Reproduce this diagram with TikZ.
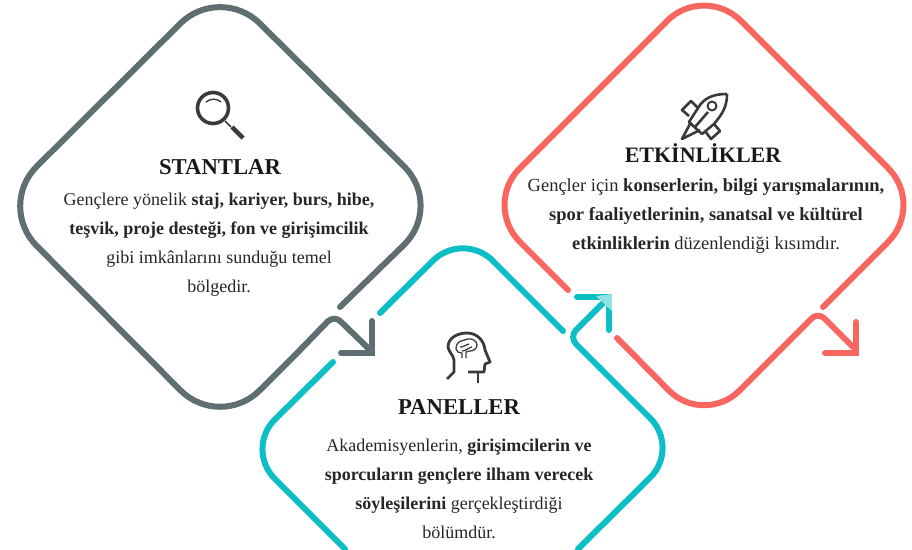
\documentclass[tikz,border=0pt]{standalone}
\usepackage{fontspec}
\setmainfont{Liberation Serif}
\definecolor{stantgray}{HTML}{5F6E71}
\definecolor{paneteal}{HTML}{0CBFC7}
\definecolor{etkired}{HTML}{F9655F}
\definecolor{icondark}{HTML}{3A3A3C}
\tikzset{
    side/.style={line width=6pt, line cap=round, line join=round},
    head/.style={line width=6pt, line cap=round, line join=miter},
    title/.style={font=\fontsize{22.7}{24}\selectfont\bfseries, text=black!90},
    body/.style={font=\fontsize{18}{29}\selectfont, align=center, text=black!85},
    icon/.style={draw=icondark, line width=2.6pt, line join=round},
}

\begin{document}
\begin{tikzpicture}[x=1pt, y=-1pt]
    \useasboundingbox (0,0) rectangle (912,549);

    % Gray diamond
    \draw[side, stantgray, rounded corners=56pt] (340,307) -- (444,206) -- (220,-16) -- (-3,206) -- (220,430) -- (300,350);
    \draw[side, stantgray, rounded corners=9pt] (300,350) -- (334,315) -- (369,349);
    \draw[head, stantgray] (372,321) -- (372,353) -- (341,353);

    % Teal diamond
    \draw[side, paneteal, rounded corners=42pt] (380,313) -- (463,231) -- (563,331);
    \draw[side, paneteal, rounded corners=42pt] (333,362) -- (245,449) -- (345,549);
    \draw[side, paneteal, rounded corners=42pt] (578,549) -- (680,448) -- (600,368);
    \draw[side, paneteal, rounded corners=10pt] (600,368) -- (569,337) -- (606,300);
    \draw[head, paneteal] (577,297) -- (609,297) -- (609,330);
    \fill[paneteal!45] (596,296) -- (612,294) -- (612,311) -- cycle;

    % Red diamond
    \draw[side, etkired, rounded corners=52pt] (568,290) -- (483,205) -- (704,-16) -- (925,205) -- (823,307);
    \draw[side, etkired, rounded corners=50pt] (617,338) -- (704,426) -- (790,340);
    \draw[side, etkired, rounded corners=9pt] (790,340) -- (818,312) -- (853,347);
    \draw[head, etkired] (856,322) -- (856,353) -- (825,353);

    % Magnifier
    \draw[icon, line width=3.6pt] (213,108) circle (15.5pt);
    \draw[icon, line width=1.4pt] (206,102) to[out=40, in=140] (221,102);
    \draw[icon, line width=1.5pt] (225,121) -- (231,127);
    \draw[icon, line width=4.5pt] (232,127) -- (243,138);

    % Rocket
    \draw[icon] (727,94) to[out=180, in=60] (698,108) -- (689,122) -- (702,134) -- (714,124) to[out=50, in=-90] (727,94);
    \draw[icon, line width=2pt] (712,106) circle (4.5pt);
    \draw[icon] (698,108) -- (691,101) -- (682,110) -- (689,116);
    \draw[icon] (714,124) -- (720,131) -- (711,139) -- (705,131);
    \draw[icon] (691,122) -- (682,139) -- (700,130);
    \draw[icon] (695,127) -- (708,112);

    % Head with brain
    \draw[icon, line width=2.8pt] (447,379) -- (454,372) -- (454,360) to[out=100, in=-80] (448,347) to[out=90, in=180] (467,333) to[out=0, in=95] (485,350) -- (490,362) -- (485,364) -- (484,372) -- (468,372);
    \draw[icon, line width=2.8pt] (478,372) -- (478,383);
    \draw[icon, line width=1.3pt] (456,349) to[out=90, in=200] (461,341) to[out=20, in=190] (468,339) to[out=10, in=90] (477,345) to[out=-90, in=0] (470,351) -- (466,352) -- (466,358) (462,358) -- (462,353) to[out=180, in=-90] (456,349) (460,347) to[out=-10, in=180] (469,344) (462,351) to[out=0, in=190] (472,347);

    % Texts
    \node[title] (stantlar) at (220,167) {STANTLAR};
    \node[body] (stantlartext) at (219,245) {Gençlere yönelik \textbf{staj, kariyer, burs, hibe,}\\ \textbf{teşvik, proje desteği, fon ve girişimcilik}\\ gibi imkânlarını sunduğu temel\\ bölgedir.};
    \node[title, font=\fontsize{22}{24}\selectfont\bfseries] (etkinlikler) at (703,153) {ETKİNLİKLER};
    \node[body, font=\fontsize{18.5}{29}\selectfont] (etkinliklertext) at (706,216) {Gençler için \textbf{konserlerin, bilgi yarışmalarının,}\\ \textbf{spor faaliyetlerinin, sanatsal ve kültürel}\\ \textbf{etkinliklerin} düzenlendiği kısımdır.};
    \node[title] (paneller) at (459,407) {PANELLER};
    \node[body] (panellertext) at (459,489) {Akademisyenlerin, \textbf{girişimcilerin ve}\\ \textbf{sporcuların gençlere ilham verecek}\\ \textbf{söyleşilerini} gerçekleştirdiği\\ bölümdür.};
\end{tikzpicture}
\end{document}
